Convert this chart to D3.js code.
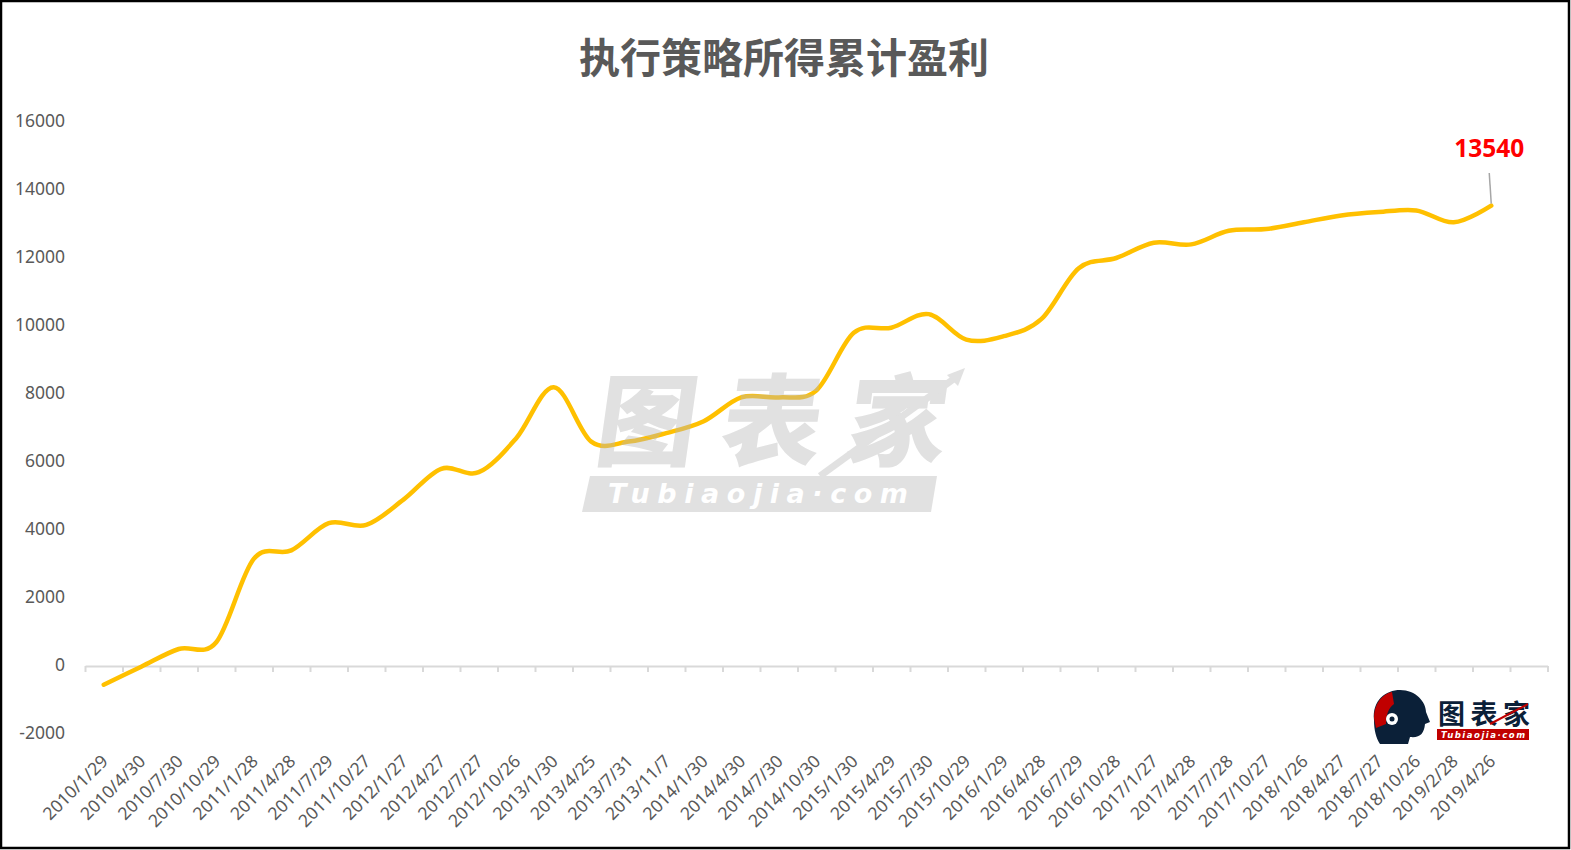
<!DOCTYPE html>
<html><head><meta charset="utf-8">
<script src="https://cdn.jsdelivr.net/npm/d3@7"></script>
<style>
html,body{margin:0;padding:0;background:#fff;}
svg{display:block;}
</style></head>
<body>
<script>
const titleText = "执行策略所得累计盈利";
const dates = ["2010/1/29","2010/4/30","2010/7/30","2010/10/29","2011/1/28","2011/4/28","2011/7/29","2011/10/27",
"2012/1/27","2012/4/27","2012/7/27","2012/10/26","2013/1/30","2013/4/25","2013/7/31","2013/11/7",
"2014/1/30","2014/4/30","2014/7/30","2014/10/30","2015/1/30","2015/4/29","2015/7/30","2015/10/29",
"2016/1/29","2016/4/28","2016/7/29","2016/10/28","2017/1/27","2017/4/28","2017/7/28","2017/10/27",
"2018/1/26","2018/4/27","2018/7/27","2018/10/26","2019/2/28","2019/4/26"];
const profit = [-550,-20,500,700,3150,3400,4200,4150,4900,5800,5700,6700,8200,6600,6600,6850,
7200,7900,7900,8100,9800,9950,10350,9600,9700,10200,11700,12000,12450,12400,12800,12850,
13050,13250,13350,13400,13050,13540];
const yTicks = [-2000,0,2000,4000,6000,8000,10000,12000,14000,16000];
const lastLabel = "13540";

const W = 1571, H = 850;
const svg = d3.select("body").append("svg").attr("width", W).attr("height", H);
svg.append("rect").attr("x",1).attr("y",1).attr("width",W-3).attr("height",H-3)
  .attr("fill","#fff").attr("stroke","#000").attr("stroke-width",2.5);

const nSlots = dates.length + 1;
const x = d3.scaleLinear().domain([0, nSlots]).range([85, 1547.5]);
const y = d3.scaleLinear().domain([-2000, 16000]).range([734, 122]);

// title
svg.append("text").attr("x", 784).attr("y", 73).attr("text-anchor","middle")
  .attr("font-family","'Noto Sans CJK SC','Noto Sans',sans-serif").attr("font-weight","bold")
  .attr("font-size",41).attr("fill","#595959").text(titleText);

// y labels
svg.append("g").selectAll("text").data(yTicks).join("text")
  .attr("x", 65).attr("y", d => y(d)).attr("text-anchor","end").attr("dominant-baseline","middle")
  .attr("font-family","'Noto Sans',sans-serif").attr("font-size",17.5).attr("fill","#595959")
  .text(d => d);

// x axis at zero
const xAxis = d3.axisBottom(x).tickValues(d3.range(nSlots + 1)).tickFormat("").tickSize(6).tickSizeOuter(0);
const gx = svg.append("g").attr("transform", `translate(0,${y(0)})`).call(xAxis);
gx.selectAll("path,line").attr("stroke","#d9d9d9").attr("stroke-width",2);

// x labels
svg.append("g").selectAll("text").data(dates).join("text")
  .attr("transform", (d,i) => `translate(${x(i+0.5)+2},${759}) rotate(-45)`)
  .attr("text-anchor","end").attr("dominant-baseline","middle")
  .attr("font-family","'Noto Sans',sans-serif").attr("font-size",17.5).attr("fill","#595959")
  .text(d => d);

// line
const line = d3.line().x((d,i) => x(i+0.5)).y(d => y(d)).curve(d3.curveCardinal.tension(0));
svg.append("path").datum(profit).attr("d", line).attr("fill","none")
  .attr("stroke","#FFC000").attr("stroke-width",4.5).attr("stroke-linecap","round");

// watermark
const wm = svg.append("g").attr("opacity",0.42);
wm.append("text").attr("x", 770).attr("y", 458).attr("text-anchor","middle")
  .attr("font-family","'Noto Sans CJK SC',sans-serif").attr("font-weight","900")
  .attr("font-size",100).attr("fill","#b8b8b8").attr("textLength",350)
  .attr("transform","skewX(-8) translate(62,0)").text("图表家");
wm.append("path").attr("d","M590,476 L937,476 L931,512 L582,512 Z").attr("fill","#b8b8b8");
wm.append("text").attr("x", 758).attr("y", 503).attr("text-anchor","middle")
  .attr("font-family","'DejaVu Sans',sans-serif").attr("font-weight","bold").attr("font-style","italic")
  .attr("font-size",27).attr("fill","#fff").attr("textLength",300).text("Tubiaojia·com");
wm.append("path").attr("d","M820,476 L955,378").attr("stroke","#b8b8b8").attr("stroke-width",7).attr("fill","none");
wm.append("path").attr("d","M965,368 L947,375 L958,386 Z").attr("fill","#b8b8b8");

// data label
const li = profit.length - 1;
svg.append("line").attr("x1", x(li+0.5)-2).attr("y1", 173).attr("x2", x(li+0.5)).attr("y2", y(profit[li]) - 2)
  .attr("stroke","#a6a6a6").attr("stroke-width",1.5);
svg.append("text").attr("x", x(li+0.5) - 2).attr("y", 157).attr("text-anchor","middle")
  .attr("font-family","'Noto Sans',sans-serif").attr("font-weight","bold")
  .attr("font-size",24.5).attr("fill","#ff0000").text(lastLabel);

// logo
const lg = svg.append("g");
lg.append("path").attr("d","M1374,720 C1372,700 1386,690 1400,690 C1416,690 1426,702 1426,712 L1430,722 L1425,724 C1424,734 1420,738 1410,737 L1408,744 L1380,744 C1376,738 1374,730 1374,720 Z")
  .attr("fill","#0b2038");
lg.append("path").attr("d","M1374,718 C1374,704 1382,694 1392,692 L1394,704 C1388,708 1386,716 1386,724 L1376,728 Z").attr("fill","#c00000");
lg.append("circle").attr("cx",1392).attr("cy",719).attr("r",6).attr("fill","#fff");
lg.append("circle").attr("cx",1392).attr("cy",719).attr("r",2.5).attr("fill","#0b2038");
lg.append("text").attr("x",1484).attr("y",724).attr("text-anchor","middle")
  .attr("font-family","'Noto Sans CJK SC',sans-serif").attr("font-weight","bold")
  .attr("font-size",27).attr("fill","#0b2038").attr("textLength",92).text("图表家");
lg.append("rect").attr("x",1437).attr("y",729).attr("width",92).attr("height",11).attr("fill","#c00000");
lg.append("text").attr("x",1483).attr("y",738).attr("text-anchor","middle")
  .attr("font-family","'DejaVu Sans',sans-serif").attr("font-weight","bold").attr("font-style","italic")
  .attr("font-size",8.5).attr("fill","#fff").attr("textLength",84).text("Tubiaojia·com");
lg.append("path").attr("d","M1490,724 L1528,704").attr("stroke","#c00000").attr("stroke-width",2);
</script>
</body></html>
